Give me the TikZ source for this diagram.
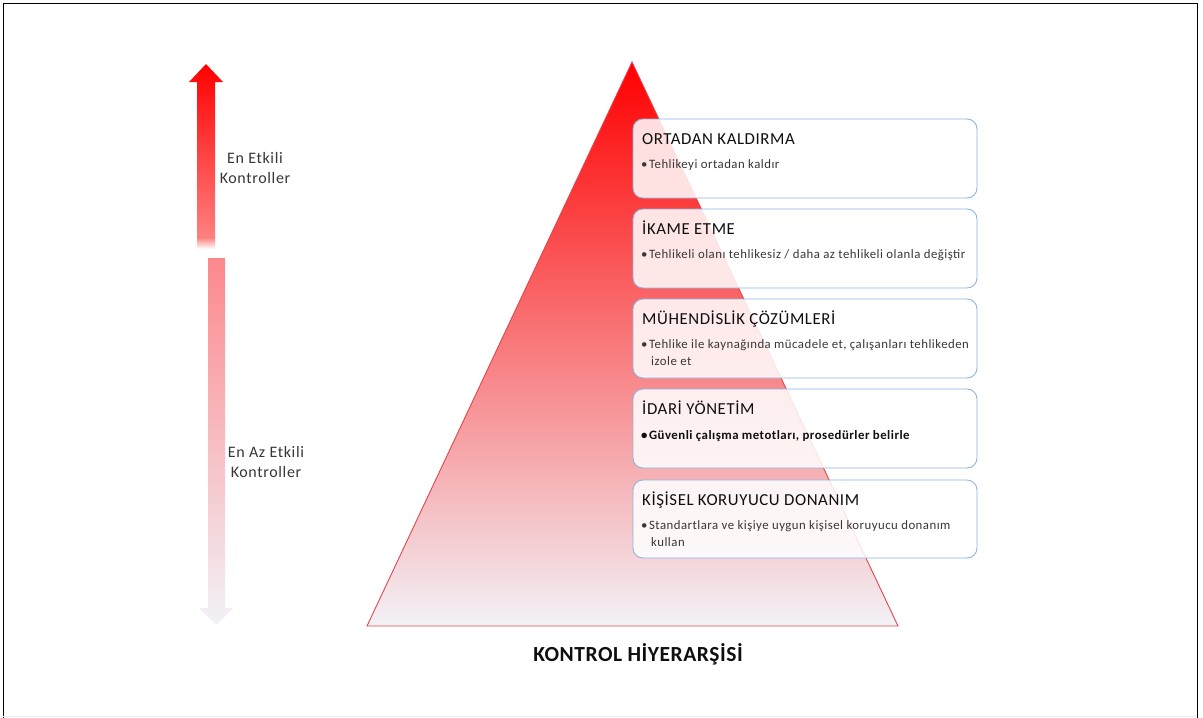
\documentclass[tikz,border=0pt]{standalone}
\usepackage{fontspec}
\setmainfont{Carlito}
\newfontfamily\ttlfont[LetterSpace=3.5]{Carlito}
\newfontfamily\bulfont[LetterSpace=3.8]{Carlito}
\newfontfamily\sidefont[LetterSpace=4]{Carlito}
\newfontfamily\capfont[LetterSpace=2.5]{Carlito}
\definecolor{tritop}{RGB}{255,0,0}
\definecolor{trimid}{RGB}{248,125,130}
\definecolor{tribot}{RGB}{242,242,247}
\definecolor{triedge}{RGB}{226,70,75}
\definecolor{boxedge}{RGB}{141,180,226}
\definecolor{upbot}{RGB}{255,128,128}
\definecolor{downtop}{RGB}{252,136,140}
\definecolor{downmid}{RGB}{247,195,200}
\definecolor{txt}{RGB}{15,15,15}
\definecolor{sub}{RGB}{55,55,55}
\tikzset{
  levelbox/.style={draw=boxedge, line width=0.9pt, fill=white, fill opacity=0.86, rounded corners=10pt},
  ttl/.style={anchor=base west, inner sep=0pt, font=\ttlfont\fontsize{16.8}{18}\selectfont, text=txt},
  bul/.style={anchor=base west, inner sep=0pt, font=\bulfont\fontsize{12.8}{15}\selectfont, text=sub},
  side/.style={anchor=base, inner sep=0pt, font=\sidefont\fontsize{16}{18}\selectfont, text=sub}
}
\begin{document}
\begin{tikzpicture}[x=1pt,y=-1pt]
\useasboundingbox (0,0) rectangle (1203,718);
\fill[white] (0,0) rectangle (1203,718);
% frame
\draw[black, line width=1pt] (3,718) -- (3,3) -- (1197,3) -- (1197,718);
\draw[black!8, line width=1pt] (3,716.5) -- (1197,716.5);
% triangle
\shade[top color=tritop, middle color=trimid, bottom color=tribot]
  (632,62) -- (898,626) -- (367,626) -- cycle;
\draw[triedge, line width=0.9pt] (632,62) -- (898,626) -- (367,626) -- cycle;
\coordinate (apex) at (632,62);
% up arrow
\shade[top color=tritop, bottom color=upbot]
  (206,64) -- (223,82) -- (215,82) -- (215,238) -- (197,238) -- (197,82) -- (189,82) -- cycle;
\shade[top color=upbot, bottom color=white] (197,237.5) rectangle (215,249);
% down arrow
\shade[top color=downtop, middle color=downmid, bottom color=tribot]
  (208,258) -- (225,258) -- (225,608) -- (233,608) -- (216.5,625) -- (199,608) -- (208,608) -- cycle;
% side labels
\node[side] (top1) at (255,163) {En Etkili};
\node[side] (top2) at (255,183) {Kontroller};
\node[side] (bot1) at (266,457) {En Az Etkili};
\node[side] (bot2) at (266,477) {Kontroller};
% boxes
\draw[levelbox] (633,119) rectangle (977,198);
\draw[levelbox] (633,209) rectangle (977,288);
\draw[levelbox] (633,299) rectangle (977,378);
\draw[levelbox] (633,389) rectangle (977,468);
\draw[levelbox] (633,480) rectangle (977,558);
% box texts
\node[ttl] (t1) at (642,144) {ORTADAN KALDIRMA};
\node[bul] (b1) at (641,168) {•\hspace{1.5pt}Tehlikeyi ortadan kaldır};
\node[ttl] (t2) at (642,234) {İKAME ETME};
\node[bul] (b2) at (641,258) {•\hspace{1.5pt}Tehlikeli olanı tehlikesiz / daha az tehlikeli olanla değiştir};
\node[ttl] (t3) at (642,324) {MÜHENDİSLİK ÇÖZÜMLERİ};
\node[bul] (b3) at (641,348) {•\hspace{1.5pt}Tehlike ile kaynağında mücadele et, çalışanları tehlikeden};
\node[bul] (b3b) at (651,365) {izole et};
\node[ttl] (t4) at (642,414) {İDARİ YÖNETİM};
\node[bul, font=\bulfont\fontsize{12.8}{15}\selectfont\bfseries, text=txt] (b4) at (641,439) {•\hspace{1.5pt}Güvenli çalışma metotları, prosedürler belirle};
\node[ttl] (t5) at (642,505) {KİŞİSEL KORUYUCU DONANIM};
\node[bul] (b5) at (641,529) {•\hspace{1.5pt}Standartlara ve kişiye uygun kişisel koruyucu donanım};
\node[bul] (b5b) at (651,546) {kullan};
% caption
\node[anchor=base, inner sep=0pt, font=\capfont\fontsize{21.5}{24}\selectfont\bfseries, text=txt] (cap) at (638,661) {KONTROL HİYERARŞİSİ};
\end{tikzpicture}
\end{document}
